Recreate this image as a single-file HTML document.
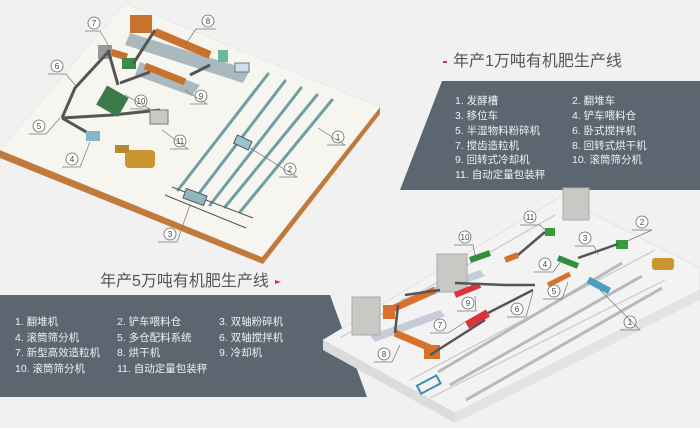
<!DOCTYPE html>
<html><head><meta charset="utf-8"><style>
body{margin:0;background:#f2f2f2;}
svg{display:block}
text{font-family:"Liberation Sans","Noto Sans CJK SC",sans-serif;}
.l{font-size:10.5px;fill:#eef0f2}
.t{font-size:16px;fill:#555}
.n{font-size:8px;fill:#444;text-anchor:middle}
</style></head><body>
<svg width="700" height="428" viewBox="0 0 700 428" xmlns="http://www.w3.org/2000/svg">
<rect width="700" height="428" fill="#f1f1f1"/>
<!-- top-left platform -->
<polygon points="0,150 262,257 380,107 380,114 263,264 0,158" fill="#c27a3a"/>
<polygon points="125,3 380,107 262,257 0,150" fill="#f6f5f0" stroke="#ddd" stroke-width="0.5"/>
<!-- rails -->
<g stroke="#6f9ea3" stroke-width="3" stroke-linecap="round">
<line x1="268" y1="74" x2="178" y2="190"/>
<line x1="285" y1="81" x2="194" y2="200"/>
<line x1="301" y1="88" x2="210" y2="205"/>
<line x1="317" y1="95" x2="225" y2="207"/>
<line x1="332" y1="100" x2="240" y2="212"/>
</g>
<g stroke="#555" stroke-width="1"><line x1="172" y1="187" x2="253" y2="218"/><line x1="165" y1="195" x2="246" y2="228"/></g>
<rect x="184" y="192" width="22" height="10" fill="#8fb8bb" stroke="#556" transform="rotate(20 195 197)"/>
<rect x="235" y="138" width="16" height="9" fill="#9cc4c8" stroke="#556" transform="rotate(25 243 142)"/>
<!-- equipment top-left -->
<polygon points="130,33 250,70 243,83 125,45" fill="#aab8c0"/>
<polygon points="140,62 200,85 192,96 135,75" fill="#aab8c0"/>
<rect x="130" y="15" width="22" height="18" fill="#c8722e"/>
<line x1="155" y1="32" x2="210" y2="55" stroke="#c8722e" stroke-width="8"/>
<line x1="145" y1="66" x2="185" y2="82" stroke="#c8722e" stroke-width="7"/>
<line x1="110" y1="52" x2="127" y2="57" stroke="#c8722e" stroke-width="7"/>
<rect x="98" y="45" width="14" height="14" fill="#999"/>
<rect x="122" y="58" width="14" height="11" fill="#3e8a43"/>
<rect x="218" y="50" width="10" height="12" fill="#6b9"/>
<rect x="235" y="63" width="14" height="9" fill="#cde" stroke="#777"/>
<g stroke="#555" stroke-width="3" fill="none">
<path d="M155,30 L133,64"/>
<path d="M110,50 L75,88 L62,118"/>
<path d="M108,50 L118,85"/>
<path d="M62,118 L95,137"/>
<path d="M62,118 L112,115 L160,110"/>
<path d="M120,83 L150,72"/>
<path d="M190,75 L210,65"/>
</g>
<rect x="100" y="90" width="25" height="22" fill="#3d7a4a" transform="rotate(30 112 101)"/>
<rect x="150" y="110" width="18" height="14" fill="#c9c9c9" stroke="#777"/>
<rect x="86" y="131" width="14" height="10" fill="#86b4c8"/>
<rect x="125" y="150" width="30" height="18" fill="#c9962f" rx="4"/>
<rect x="115" y="145" width="14" height="8" fill="#b88a30"/>
<!-- labels top-left -->
<g fill="#fff" stroke="#666" stroke-width="0.8">
<circle cx="94" cy="23" r="6"/><circle cx="208" cy="21" r="6"/><circle cx="57" cy="66" r="6"/><circle cx="141" cy="101" r="6"/><circle cx="201" cy="96" r="6"/><circle cx="39" cy="126" r="6"/><circle cx="180" cy="141" r="6"/><circle cx="72" cy="159" r="6"/><circle cx="338" cy="137" r="6"/><circle cx="290" cy="169" r="6"/><circle cx="170" cy="234" r="6"/>
</g>
<g stroke="#777" stroke-width="0.7" fill="none">
<path d="M85,31 H100 L110,48"/><path d="M196,29 H216 M196,29 L185,45"/><path d="M48,74 H66 L75,85"/><path d="M130,109 H150 L125,95"/><path d="M190,104 H207 L185,90"/><path d="M29,134 H46 L60,118"/><path d="M170,149 H188 L162,130"/><path d="M62,167 H80 L90,142"/><path d="M327,145 H345 L318,128"/><path d="M279,177 H297 L250,148"/><path d="M158,242 H177 L190,205"/>
</g>
<g class="n"><text x="94" y="26">7</text><text x="208" y="24">8</text><text x="57" y="69">6</text><text x="141" y="104">10</text><text x="201" y="99">9</text><text x="39" y="129">5</text><text x="180" y="144">11</text><text x="72" y="162">4</text><text x="338" y="140">1</text><text x="290" y="172">2</text><text x="170" y="237">3</text></g>

<!-- panel 1 -->
<polygon points="442,81 700,81 700,190 400,190" fill="#5b6670"/>
<rect x="443" y="61" width="4" height="2" fill="#d33"/>
<text class="t" x="453" y="66">年产1万吨有机肥生产线</text>
<g class="l">
<text x="455" y="104">1. 发酵槽</text><text x="572" y="104">2. 翻堆车</text>
<text x="455" y="119">3. 移位车</text><text x="572" y="119">4. 铲车喂料仓</text>
<text x="455" y="134">5. 半湿物料粉碎机</text><text x="572" y="134">6. 卧式搅拌机</text>
<text x="455" y="149">7. 搅齿造粒机</text><text x="572" y="149">8. 回转式烘干机</text>
<text x="455" y="163">9. 回转式冷却机</text><text x="572" y="163">10. 滚筒筛分机</text>
<text x="455" y="178">11. 自动定量包装秤</text>
</g>

<!-- panel 2 -->
<polygon points="0,295 330,295 367,397 0,397" fill="#5b6670"/>
<text class="t" x="100" y="286">年产5万吨有机肥生产线</text>
<polygon points="275,280 281,282 275,284" fill="#d33"/>
<g class="l">
<text x="15" y="325">1. 翻堆机</text><text x="117" y="325">2. 铲车喂料仓</text><text x="219" y="325">3. 双轴粉碎机</text>
<text x="15" y="341">4. 滚筒筛分机</text><text x="117" y="341">5. 多仓配料系统</text><text x="219" y="341">6. 双轴搅拌机</text>
<text x="15" y="356">7. 新型高效造粒机</text><text x="117" y="356">8. 烘干机</text><text x="219" y="356">9. 冷却机</text>
<text x="15" y="372">10. 滚筒筛分机</text><text x="117" y="372">11. 自动定量包装秤</text>
</g>

<!-- bottom-right platform -->
<polygon points="323,340 455,413 455,423 323,350" fill="#dcdcdc"/>
<polygon points="455,413 700,290 700,300 455,423" fill="#e4e4e4"/>
<polygon points="323,340 560,197 700,268 700,290 455,413" fill="#f3f3f3" stroke="#d8d8d8" stroke-width="0.6"/>
<g stroke="#c8c8c8" stroke-width="1.2" fill="none">
<line x1="410" y1="380" x2="655" y2="250"/>
<line x1="430" y1="398" x2="665" y2="280"/>
<line x1="340" y1="338" x2="555" y2="215"/>
</g>
<g stroke="#b9b9b9" stroke-width="3"><line x1="438" y1="372" x2="622" y2="263"/><line x1="450" y1="385" x2="642" y2="276"/><line x1="466" y1="400" x2="662" y2="288"/></g>
<rect x="418" y="380" width="22" height="9" fill="none" stroke="#3a8fb5" stroke-width="2" transform="rotate(-28 429 385)"/>
<rect x="587" y="282" width="24" height="7" fill="#4a9fc0" transform="rotate(28 599 285)"/>
<!-- equipment -->
<polygon points="370,335 440,310 445,316 375,342" fill="#c6ccd6"/>
<polygon points="400,300 480,270 485,276 405,305" fill="#c6ccd6"/>
<rect x="352" y="297" width="28" height="38" fill="#c8c8c4" stroke="#aaa"/>
<rect x="437" y="254" width="30" height="38" fill="#c8c8c4" stroke="#aaa"/>
<rect x="563" y="188" width="26" height="32" fill="#c8c8c4" stroke="#aaa"/>
<line x1="390" y1="310" x2="435" y2="290" stroke="#d9702e" stroke-width="7"/>
<line x1="395" y1="333" x2="430" y2="348" stroke="#d9702e" stroke-width="7"/>
<rect x="424" y="345" width="16" height="14" fill="#d9702e"/>
<rect x="383" y="305" width="12" height="14" fill="#d9702e"/>
<line x1="455" y1="295" x2="480" y2="285" stroke="#d8353a" stroke-width="6"/>
<line x1="467" y1="325" x2="488" y2="313" stroke="#d8353a" stroke-width="8"/>
<line x1="470" y1="260" x2="490" y2="253" stroke="#2f8f3a" stroke-width="6"/>
<line x1="505" y1="260" x2="518" y2="255" stroke="#d9702e" stroke-width="6"/>
<line x1="558" y1="258" x2="578" y2="266" stroke="#2f8f3a" stroke-width="6"/>
<line x1="548" y1="285" x2="570" y2="274" stroke="#d9702e" stroke-width="5"/>
<rect x="545" y="228" width="10" height="8" fill="#3a9a3e"/>
<rect x="616" y="240" width="12" height="9" fill="#3a9a3e"/>
<g stroke="#555" stroke-width="2.5" fill="none">
<path d="M395,333 L398,305"/><path d="M430,355 L485,320"/><path d="M488,313 L533,290"/><path d="M455,283 L505,285 L535,285"/>
<path d="M518,255 L545,232"/><path d="M578,258 L618,244"/><path d="M405,295 L440,290"/>
</g>
<rect x="652" y="258" width="22" height="12" fill="#c9962f" rx="3"/>
<!-- labels bottom-right -->
<g fill="#fff" stroke="#666" stroke-width="0.8">
<circle cx="530" cy="217" r="6"/><circle cx="465" cy="237" r="6"/><circle cx="642" cy="222" r="6"/><circle cx="585" cy="238" r="6"/><circle cx="545" cy="264" r="6"/><circle cx="554" cy="291" r="6"/><circle cx="468" cy="303" r="6"/><circle cx="517" cy="309" r="6"/><circle cx="440" cy="325" r="6"/><circle cx="630" cy="322" r="6"/><circle cx="384" cy="354" r="6"/>
</g>
<g stroke="#777" stroke-width="0.7" fill="none">
<path d="M520,225 H540 L545,230"/><path d="M454,245 H473 L475,255"/><path d="M632,230 H652 L625,242"/><path d="M575,246 H594 L598,255"/><path d="M534,272 H553 L562,260"/><path d="M543,299 H562 L568,282"/><path d="M457,311 H476 L475,296"/><path d="M507,317 H526 L533,292"/><path d="M430,333 H448 L465,322"/><path d="M620,330 H640 L600,290"/><path d="M374,362 H392 L400,345"/>
</g>
<g class="n"><text x="530" y="220">11</text><text x="465" y="240">10</text><text x="642" y="225">2</text><text x="585" y="241">3</text><text x="545" y="267">4</text><text x="554" y="294">5</text><text x="468" y="306">9</text><text x="517" y="312">6</text><text x="440" y="328">7</text><text x="630" y="325">1</text><text x="384" y="357">8</text></g>
</svg>
</body></html>
